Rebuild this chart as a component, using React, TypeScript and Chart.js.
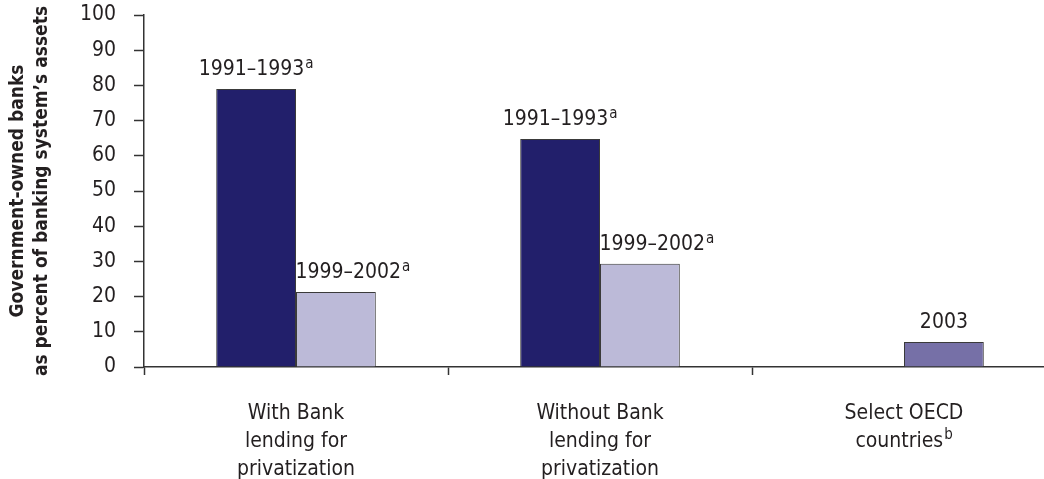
import React, { useEffect, useRef } from 'react';
import { Chart, registerables } from 'chart.js';

Chart.register(...registerables);

// ---- data ----
const categories: string[][] = [
  ['With Bank', 'lending for', 'privatization'],
  ['Without Bank', 'lending for', 'privatization'],
  ['Select OECD', 'countries\u2002'],
];
const categorySups = ['', '', 'b'];
const earlyValues: (number | null)[] = [79, 64.8, null];
const lateValues: number[] = [21.3, 29.3, 7.1];
const earlyLabels = ['1991–1993', '1991–1993', ''];
const earlySups = ['a', 'a', ''];
const lateLabels = ['1999–2002', '1999–2002', '2003'];
const lateSups = ['a', 'a', ''];
const yMin = 0;
const yMax = 100;
const yStep = 10;

const FONT = "'Liberation Sans Narrow', 'DejaVu Sans Condensed', 'Arial Narrow', sans-serif";
const TEXT = '#231f20';
const DARK = '#221f6b';
const LIGHT = '#bcbad8';
const MEDIUM = '#7670a7';

const X_TICK_LEN = 8;
const X_TICK_PAD = 25;
const X_LINE_H = 28;

const labelPlugin = {
  id: 'barLabels',
  afterDatasetsDraw(chart: any) {
    const ctx = chart.ctx;
    const sets = [
      { labels: earlyLabels, sups: earlySups },
      { labels: lateLabels, sups: lateSups },
    ];
    ctx.save();
    ctx.fillStyle = TEXT;
    ctx.textBaseline = 'alphabetic';
    ctx.textAlign = 'left';
    sets.forEach((s, di) => {
      const meta = chart.getDatasetMeta(di);
      meta.data.forEach((bar: any, i: number) => {
        const main = s.labels[i];
        if (!main) return;
        const v = chart.data.datasets[di].data[i];
        if (v === null || v === undefined) return;
        ctx.font = `21px ${FONT}`;
        const w1 = ctx.measureText(main).width;
        ctx.font = `15px ${FONT}`;
        const w2 = s.sups[i] ? ctx.measureText(s.sups[i]).width + 1 : 0;
        const shift = di === 1 && i < 2 ? 17 : 0;
        const x0 = bar.x + shift - (w1 + w2) / 2;
        const base = bar.y - 14;
        ctx.font = `21px ${FONT}`;
        ctx.fillText(main, x0, base);
        if (s.sups[i]) {
          ctx.font = `15px ${FONT}`;
          ctx.fillText(s.sups[i], x0 + w1 + 1, base - 7);
        }
      });
    });
    // category superscripts
    const xs = chart.scales.x;
    categories.forEach((lines, i) => {
      const sup = categorySups[i];
      if (!sup) return;
      const last = lines[lines.length - 1];
      ctx.font = `21px ${FONT}`;
      const W = ctx.measureText(last).width;
      const w = ctx.measureText(last.trim()).width;
      const cx = xs.getPixelForValue(i);
      const lineMid = xs.top + X_TICK_LEN + X_TICK_PAD + X_LINE_H / 2 + X_LINE_H * (lines.length - 1);
      ctx.font = `15px ${FONT}`;
      ctx.textBaseline = 'middle';
      ctx.fillText(sup, cx - W / 2 + w + 1, lineMid - 7);
    });
    ctx.restore();
  },
};

export default function App() {
  const ref = useRef<HTMLCanvasElement | null>(null);
  useEffect(() => {
    if (!ref.current) return;
    const chart = new Chart(ref.current, {
      type: 'bar',
      data: {
        labels: categories,
        datasets: [
          {
            data: earlyValues,
            backgroundColor: DARK,
            borderColor: '#3a3a3a',
            borderWidth: 1,
          },
          {
            data: lateValues,
            backgroundColor: [LIGHT, LIGHT, MEDIUM],
            borderColor: '#3a3a3a',
            borderWidth: 1,
          },
        ],
      },
      options: {
        animation: false,
        responsive: true,
        maintainAspectRatio: false,
        layout: { padding: { top: 15, right: 0, bottom: 0, left: 0 } },
        plugins: { legend: { display: false }, tooltip: { enabled: false }, title: { display: false } },
        datasets: { bar: { categoryPercentage: 0.525, barPercentage: 1, grouped: true } },
        scales: {
          x: {
            offset: true,
            grid: {
              display: true,
              offset: true,
              drawOnChartArea: false,
              drawTicks: true,
              tickLength: X_TICK_LEN,
              color: '#333333',
              tickWidth: 1.5,
            },
            border: { display: true, color: '#333333', width: 1.5 },
            ticks: {
              color: TEXT,
              font: { family: FONT, size: 21, lineHeight: `${X_LINE_H}px` },
              padding: X_TICK_PAD,
              maxRotation: 0,
              autoSkip: false,
            },
            afterFit: (scale: any) => {
              scale.height = 112;
              scale.paddingLeft = 0;
              scale.paddingRight = 0;
            },
          },
          y: {
            min: yMin,
            max: yMax,
            ticks: {
              stepSize: yStep,
              color: TEXT,
              font: { family: FONT, size: 21 },
              padding: 18,
            },
            grid: {
              display: true,
              drawOnChartArea: false,
              drawTicks: true,
              tickLength: 10,
              color: '#333333',
              tickWidth: 1.5,
            },
            border: { display: true, color: '#333333', width: 1.5 },
            title: {
              display: true,
              text: ['Government-owned banks', 'as percent of banking system\u2019s assets'],
              color: TEXT,
              font: { family: FONT, size: 19, weight: 'bold', lineHeight: '24px' },
              padding: { top: 6, bottom: 0 },
            },
            afterFit: (scale: any) => {
              scale.width = 144;
              scale.paddingTop = 0;
              scale.paddingBottom = 0;
            },
          },
        },
      },
      plugins: [labelPlugin],
    } as any);
    return () => chart.destroy();
  }, []);
  return (
    <div style={{ position: 'absolute', left: 0, top: 0, width: 1044, height: 479, overflow: 'hidden', background: '#fff' }}>
      <div style={{ position: 'relative', width: 1056, height: 479 }}>
        <canvas ref={ref} />
      </div>
    </div>
  );
}
